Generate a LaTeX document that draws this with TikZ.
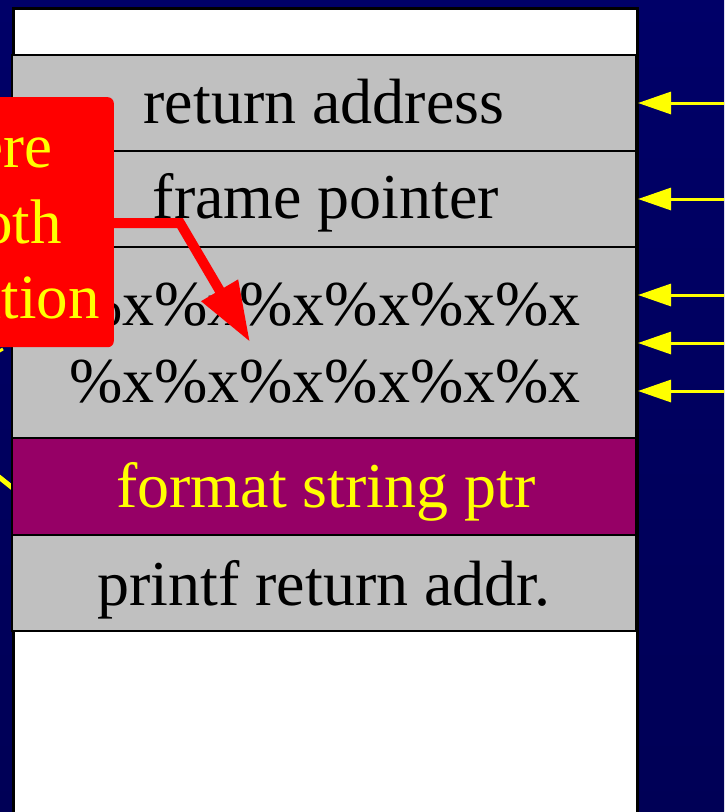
\documentclass[tikz,border=0pt]{standalone}
\usepackage{fontspec}
\setmainfont{Liberation Serif}
\usetikzlibrary{arrows.meta}
\definecolor{bgtop}{RGB}{0,0,104}
\definecolor{bgmid}{RGB}{0,0,122}
\definecolor{bgbot}{RGB}{0,0,86}
\definecolor{stackgray}{RGB}{192,192,192}
\definecolor{fmtpurple}{RGB}{150,0,102}
\definecolor{hiyellow}{RGB}{255,255,0}
\begin{document}
\begin{tikzpicture}[x=1pt,y=-1pt,
  stackrow/.style={draw=black, line width=2.5pt, fill=stackgray, minimum width=624pt, inner sep=0pt},
  rowtext/.style={anchor=base, inner sep=0pt, font=\fontsize{64}{77}\selectfont},
  callouttext/.style={anchor=base east, inner sep=0pt, text=hiyellow, font=\fontsize{63}{75}\selectfont},
  callout/.style={fill=red, rounded corners=6pt, inner sep=0pt, minimum width=170pt, minimum height=250pt, anchor=north east},
  redarrow/.style={draw=red, line width=10pt, -{Triangle[length=60pt,width=40pt]}},
  yarrow/.style={draw=hiyellow, line width=3pt, -{Triangle[length=33pt,width=22pt]}},
  yline/.style={draw=hiyellow, line width=5pt}
]
\useasboundingbox (0,0) rectangle (724,812);
\clip (0,0) rectangle (724,812);
\shade[top color=bgtop, middle color=bgmid, bottom color=bgbot] (-1,-1) rectangle (725,813);

% yellow leader lines behind the stack
\coordinate (ylA1) at (-6,473);
\coordinate (ylA2) at (14,489);
\draw[yline] (ylA1) -- (ylA2);
\coordinate (ylB1) at (-4,353);
\coordinate (ylB2) at (3,349);
\draw[yline, line width=3pt] (ylB1) -- (ylB2);

% stack column
\node[draw=black, line width=3pt, fill=white, minimum width=624pt, minimum height=830pt, anchor=north west, inner sep=0pt] (column) at (12,7) {};
\node[stackrow, minimum height=96pt] (ra) at (324,103) {};
\node[stackrow, minimum height=96pt] (fp) at (324,199) {};
\node[stackrow, minimum height=191pt] (fx) at (324,342.5) {};
\node[stackrow, fill=fmtpurple, minimum height=97pt] (fs) at (324,486.5) {};
\node[stackrow, minimum height=96pt] (pr) at (324,583) {};

\node[rowtext] (tra) at (324,123) {return address};
\node[rowtext] (tfp) at (326,218) {frame pointer};
\node[rowtext] (tfx1) at (325,325) {\%x\%x\%x\%x\%x\%x};
\node[rowtext] (tfx2) at (325,402) {\%x\%x\%x\%x\%x\%x};
\node[rowtext, text=hiyellow] (tfs) at (326,507) {format string ptr};
\node[rowtext] (tpr) at (324,605) {printf return addr.};

% red callout
\node[callout] (cb) at (114,97) {};
\node[callouttext] (c1) at (53,167) {ere};
\node[callouttext] (c2) at (62,243) {oth};
\node[callouttext] (c3) at (100,318) {ation};
\coordinate (rs) at (113,223);
\coordinate (rb) at (180,223);
\coordinate (rt) at (250,342);
\draw[redarrow] (rs) -- (rb) -- (rt);

% yellow pointers on the right
\foreach \yy/\nm in {103/a,199/b,295/c,343/d,391/e}{
  \coordinate (ys\nm) at (726,\yy);
  \coordinate (yt\nm) at (638,\yy);
  \draw[yarrow] (ys\nm) -- (yt\nm);
}
\end{tikzpicture}
\end{document}
